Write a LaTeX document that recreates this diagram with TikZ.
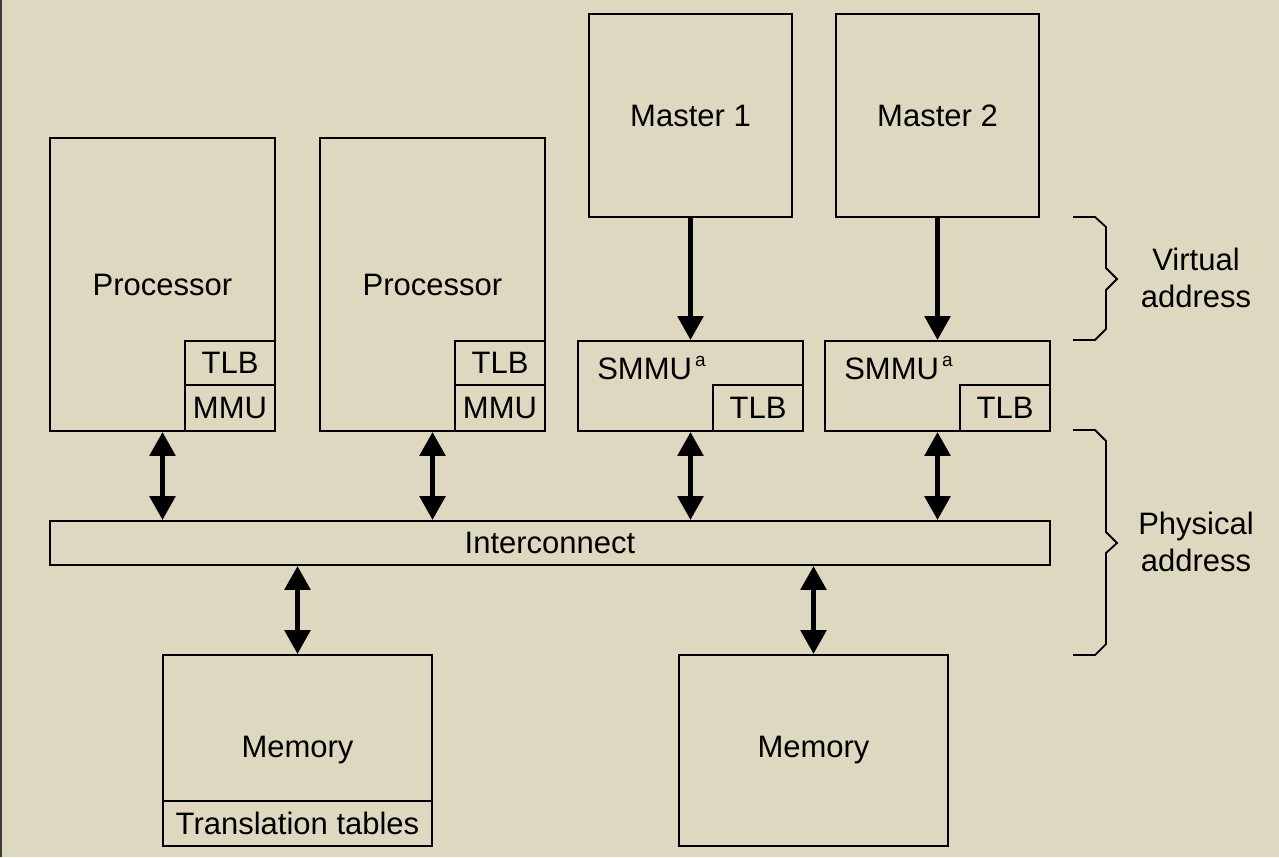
\documentclass[tikz,border=0pt]{standalone}
\usepackage{fontspec}
\setmainfont{Liberation Sans}
\usetikzlibrary{arrows.meta}
\definecolor{paper}{RGB}{223,216,192}
\definecolor{rim}{RGB}{60,60,60}
\begin{document}
\begin{tikzpicture}[x=1pt,y=-1pt,
  box/.style={draw, rectangle, line width=1.8pt, inner sep=0pt,
    font=\fontsize{31}{37}\selectfont},
  both/.style={line width=5.5pt,
    {Triangle[width=25pt,length=24pt]}-{Triangle[width=25pt,length=24pt]}},
  down/.style={line width=5.5pt, -{Triangle[width=25pt,length=24pt]}},
  brace/.style={line width=1.8pt},
  side/.style={align=center, font=\fontsize{31}{37}\selectfont}]

\useasboundingbox (0,0) rectangle (1279,857);
\fill[paper] (0,0) rectangle (1279,857);
\draw[rim, line width=1.5pt] (0.75,0) -- (0.75,857);

% processors
\node[box, minimum width=225pt, minimum height=293pt] (proc1) at (162.5,284.5) {Processor};
\node[box, minimum width=90pt, minimum height=44pt] (tlb1) at (230,363) {TLB};
\node[box, minimum width=90pt, minimum height=46pt] (mmu1) at (230,408) {MMU};

\node[box, minimum width=225pt, minimum height=293pt] (proc2) at (432.5,284.5) {Processor};
\node[box, minimum width=90pt, minimum height=44pt] (tlb2) at (500,363) {TLB};
\node[box, minimum width=90pt, minimum height=46pt] (mmu2) at (500,408) {MMU};

% masters
\node[box, minimum width=203pt, minimum height=203pt] (master1) at (690.5,115.5) {Master 1};
\node[box, minimum width=203pt, minimum height=203pt] (master2) at (937.5,115.5) {Master 2};

% smmus
\node[box, minimum width=225pt, minimum height=90pt] (smmu1) at (690.5,386) {};
\node[box, minimum width=90pt, minimum height=46pt] (stlb1) at (758,408) {TLB};
\node[side, anchor=base west, inner sep=0pt] (smmulbl1) at ([xshift=20pt,yshift=7pt]smmu1.west)
  {SMMU\kern3pt\raisebox{13pt}{\fontsize{19}{19}\selectfont a}};

\node[box, minimum width=225pt, minimum height=90pt] (smmu2) at (937.5,386) {};
\node[box, minimum width=90pt, minimum height=46pt] (stlb2) at (1005,408) {TLB};
\node[side, anchor=base west, inner sep=0pt] (smmulbl2) at ([xshift=20pt,yshift=7pt]smmu2.west)
  {SMMU\kern3pt\raisebox{13pt}{\fontsize{19}{19}\selectfont a}};

% interconnect
\node[box, minimum width=1000pt, minimum height=44pt] (ic) at (550,543) {Interconnect};

% memories
\node[box, minimum width=269pt, minimum height=191pt] (mem1) at (297.5,750.5) {Memory};
\node[box, minimum width=269pt, minimum height=45pt] (tt) at (297.5,823.5) {Translation tables};
\node[box, minimum width=269pt, minimum height=191pt] (mem2) at (813.5,750.5) {Memory};

% arrows
\draw[down] (master1.south) -- (smmu1.north);
\draw[down] (master2.south) -- (smmu2.north);
\draw[both] (proc1.south) -- (proc1.south |- ic.north);
\draw[both] (proc2.south) -- (proc2.south |- ic.north);
\draw[both] (smmu1.south) -- (smmu1.south |- ic.north);
\draw[both] (smmu2.south) -- (smmu2.south |- ic.north);
\draw[both] (mem1.north |- ic.south) -- (mem1.north);
\draw[both] (mem2.north |- ic.south) -- (mem2.north);

% braces
\draw[brace] (1073,217) -- (1095,217) -- (1106,227) -- (1106,268) -- (1117,279)
  -- (1106,290) -- (1106,329) -- (1095,340) -- (1073,340);
\draw[brace] (1073,430) -- (1095,430) -- (1106,441) -- (1106,532) -- (1117,543)
  -- (1106,553) -- (1106,644) -- (1095,655) -- (1073,655);
\node[side] (virt) at (1196,278) {Virtual\\address};
\node[side] (phys) at (1196,542) {Physical\\address};

\end{tikzpicture}
\end{document}
